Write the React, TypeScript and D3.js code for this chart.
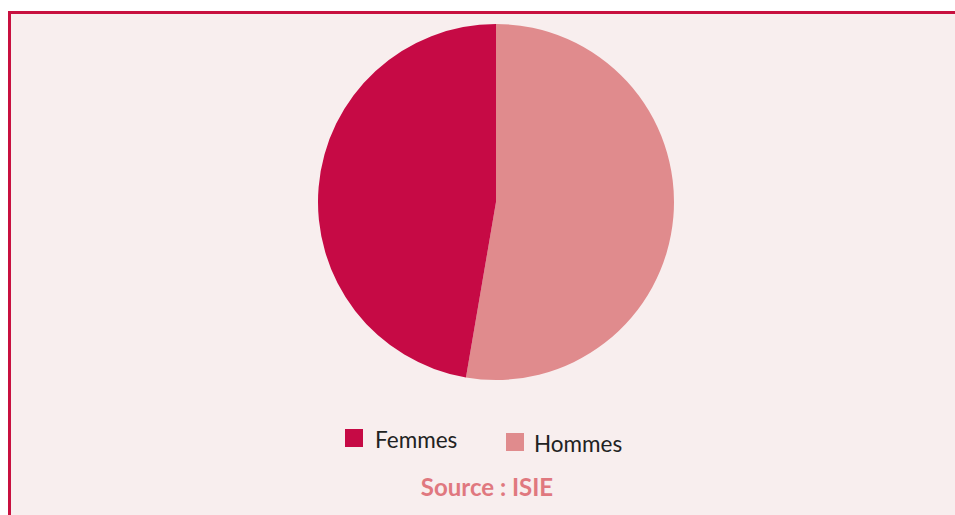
import React from 'react'
import { pie, arc, PieArcDatum } from 'd3'

const categories = ['Hommes', 'Femmes']
const values = [52.7, 47.3]
const colors = ['#E08B8D', '#C60A45']
const source = 'Source : ISIE'

export default function App() {
  const width = 955
  const height = 515
  const cx = 496
  const cy = 202
  const radius = 178

  const data = categories.map((c, i) => ({ name: c, value: values[i], color: colors[i] }))
  const layout = pie<any>().value(d => d.value).sort(null)
  const arcs = layout(data)
  const arcGen = arc<PieArcDatum<any>>().innerRadius(0).outerRadius(radius)

  const legend = [
    { name: 'Femmes', color: colors[1], x: 345, y: 429, dx: 30 },
    { name: 'Hommes', color: colors[0], x: 506, y: 433, dx: 28 },
  ]

  return (
    <svg width={width} height={height} style={{ position: 'absolute', left: 0, top: 0 }}>
      <rect x={0} y={0} width={width} height={height} fill="#ffffff" />
      <rect x={9.5} y={12.5} width={960} height={520} fill="#F8EEEE" stroke="#C8103F" strokeWidth={3} />
      <g transform={`translate(${cx},${cy})`}>
        {arcs.map((a, i) => (
          <path key={i} d={arcGen(a) || ''} fill={a.data.color} />
        ))}
      </g>
      {legend.map(l => (
        <g key={l.name}>
          <rect x={l.x} y={l.y} width={18} height={18} fill={l.color} />
          <text x={l.x + l.dx} y={l.y + 19} fontFamily="Lato, sans-serif" fontSize={22.5} fill="#222">{l.name}</text>
        </g>
      ))}
      <text x={487} y={496} textAnchor="middle" fontFamily="Lato, sans-serif" fontWeight="bold" fontSize={24} fill="#E0787F">{source}</text>
    </svg>
  )
}
